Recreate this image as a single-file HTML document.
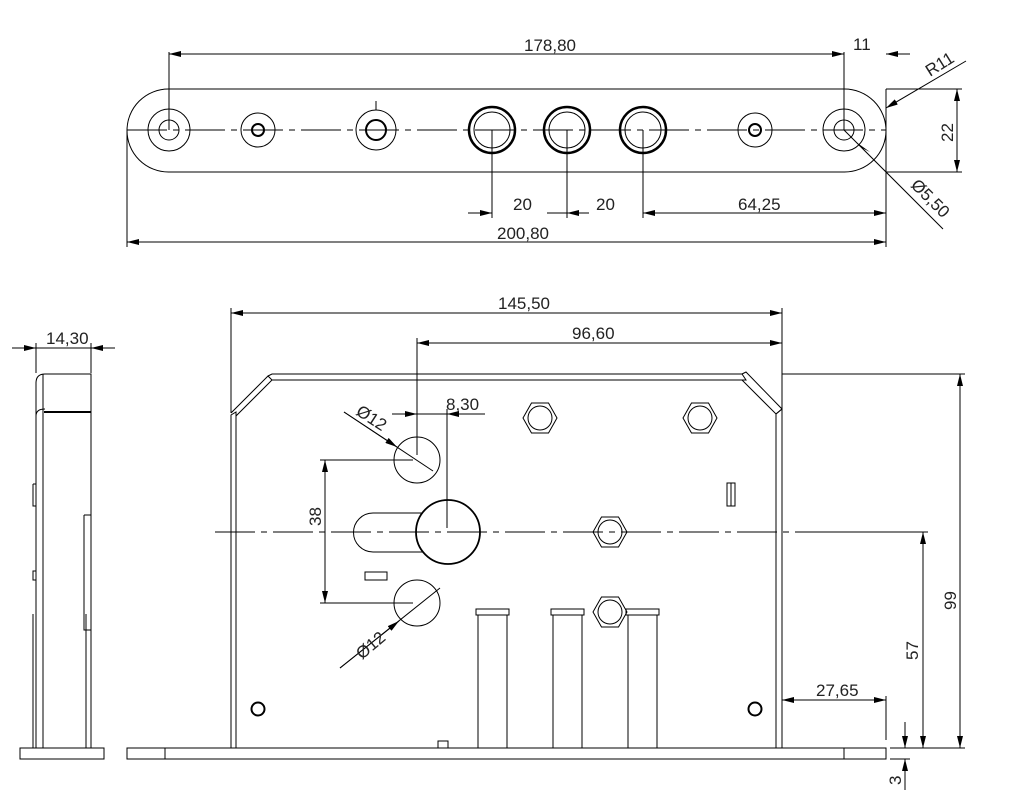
<!DOCTYPE html>
<html><head><meta charset="utf-8"><style>
html,body{margin:0;padding:0;background:#fff}
svg{display:block}
text{font-family:"Liberation Sans",sans-serif;font-size:17px;fill:#222}
</style></head><body>
<svg width="1024" height="793" viewBox="0 0 1024 793" xmlns="http://www.w3.org/2000/svg">
<defs>
<marker id="a" viewBox="0 0 12 6" refX="12" refY="3" markerWidth="12" markerHeight="6" orient="auto-start-reverse" markerUnits="userSpaceOnUse"><path d="M0,0L12,3L0,6z" fill="#000"/></marker>
<g id="hx" stroke="#000" fill="none"><polygon points="-17,0 -8.5,-15 8.5,-15 17,0 8.5,15 -8.5,15"/><circle r="12"/></g>
</defs>
<g stroke="#000" stroke-width="1" fill="none">
<!-- top plate -->
<rect x="127" y="89" width="759" height="83" rx="41.5"/>
<line x1="127" y1="130" x2="886" y2="130" stroke-dasharray="40,6,6,6"/>
<circle cx="169" cy="130" r="21"/><circle cx="169" cy="130" r="10"/>
<circle cx="258" cy="130" r="17"/><circle cx="258" cy="130" r="6" stroke-width="2"/>
<circle cx="376" cy="130" r="20"/><circle cx="376" cy="130" r="10" stroke-width="2"/>
<line x1="376" y1="101" x2="376" y2="110"/>
<circle cx="492" cy="130" r="23" stroke-width="2.5"/><circle cx="492" cy="130" r="18"/>
<circle cx="567" cy="130" r="23" stroke-width="2.5"/><circle cx="567" cy="130" r="18"/>
<circle cx="643" cy="130" r="23" stroke-width="2.5"/><circle cx="643" cy="130" r="18"/>
<circle cx="755" cy="130" r="17"/><circle cx="755" cy="130" r="6" stroke-width="2"/>
<circle cx="844" cy="130" r="21"/><circle cx="844" cy="130" r="10"/>
<!-- top dims -->
<line x1="169" y1="130" x2="169" y2="52"/>
<line x1="844" y1="130" x2="844" y2="52"/>
<line x1="886" y1="89" x2="886" y2="247"/>
<line x1="127" y1="130" x2="127" y2="247"/>
<line x1="169" y1="54" x2="844" y2="54" marker-start="url(#a)" marker-end="url(#a)"/>
<line x1="910" y1="54" x2="886" y2="54" marker-end="url(#a)"/>
<line x1="886" y1="89" x2="962" y2="89"/><line x1="886" y1="172" x2="962" y2="172"/>
<line x1="957" y1="89" x2="957" y2="172" marker-start="url(#a)" marker-end="url(#a)"/>
<line x1="966" y1="61" x2="886" y2="108" marker-end="url(#a)"/>
<line x1="844" y1="130" x2="943" y2="229"/>
<line x1="492" y1="130" x2="492" y2="218"/>
<line x1="567" y1="130" x2="567" y2="218"/>
<line x1="643" y1="130" x2="643" y2="218"/>
<line x1="468" y1="213" x2="492" y2="213" marker-end="url(#a)"/>
<line x1="589" y1="213" x2="567" y2="213" marker-end="url(#a)"/>
<line x1="567" y1="213" x2="547" y2="213"/>
<line x1="643" y1="213" x2="886" y2="213" marker-start="url(#a)" marker-end="url(#a)"/>
<line x1="127" y1="242" x2="886" y2="242" marker-start="url(#a)" marker-end="url(#a)"/>
</g>
<polygon points="870,152 856,142 862,148" fill="#000"/>
<text x="524" y="51">178,80</text>
<text x="853" y="50">11</text>
<text x="513" y="210">20</text>
<text x="596" y="210">20</text>
<text x="738" y="210">64,25</text>
<text x="497" y="239">200,80</text>
<text transform="translate(953,142) rotate(-90)">22</text>
<text transform="translate(930,77) rotate(-32)">R11</text>
<text transform="translate(910,186) rotate(45)">Ø5,50</text>

<!-- lower main view -->
<g stroke="#000" stroke-width="1" fill="none">
<path d="M231,748 V415 L236,412 L236,748"/>
<path d="M231,413 L268,376 L272,380 L236,416"/>
<path d="M268,376 L272,374 H742 L746,380 H272"/>
<path d="M742,374 L746,372 L782,409 L776,414 L742,380"/>
<path d="M776,748 V414 L782,409 V748"/>
<rect x="127" y="748" width="759" height="11"/>
<line x1="165" y1="748" x2="165" y2="759"/>
<line x1="844" y1="748" x2="844" y2="759"/>
<rect x="438" y="741" width="10" height="7"/>
<line x1="215" y1="532" x2="810" y2="532" stroke-dasharray="40,6,6,6"/>
<circle cx="417" cy="460" r="23"/>
<circle cx="417" cy="603" r="23"/>
<circle cx="448" cy="532" r="32" stroke-width="1.8"/>
<path d="M423,513 H373 A19.5,19.5 0 0 0 373,552 H423"/>
<rect x="365" y="572" width="22" height="8"/>
<rect x="727" y="483" width="8" height="23"/>
<line x1="731" y1="483" x2="731" y2="506"/>
<circle cx="258" cy="709" r="6.5" stroke-width="2"/>
<circle cx="755" cy="709" r="6.5" stroke-width="2"/>
<path d="M478,748 V615 H507 V748 M476,609 H509 V615 H476 Z"/>
<path d="M553,748 V615 H582 V748 M551,609 H584 V615 H551 Z"/>
<path d="M628,748 V615 H657 V748 M626,609 H659 V615 H626 Z"/>
<line x1="231" y1="413" x2="231" y2="308"/>
<line x1="782" y1="409" x2="782" y2="308"/>
<line x1="231" y1="313" x2="782" y2="313" marker-start="url(#a)" marker-end="url(#a)"/>
<line x1="417" y1="455" x2="417" y2="338"/>
<line x1="417" y1="343" x2="782" y2="343" marker-start="url(#a)" marker-end="url(#a)"/>
<line x1="447" y1="528" x2="447" y2="409"/>
<line x1="392" y1="414" x2="417" y2="414" marker-end="url(#a)"/>
<line x1="485" y1="414" x2="447" y2="414" marker-end="url(#a)"/>
<line x1="417" y1="414" x2="447" y2="414"/>
<line x1="344" y1="412" x2="433" y2="471"/>
<line x1="344" y1="412" x2="397" y2="447" marker-end="url(#a)"/>
<line x1="320" y1="460" x2="413" y2="460"/>
<line x1="320" y1="603" x2="413" y2="603"/>
<line x1="325" y1="460" x2="325" y2="603" marker-start="url(#a)" marker-end="url(#a)"/>
<line x1="440" y1="588" x2="340" y2="668"/>
<line x1="340" y1="668" x2="399" y2="621" marker-end="url(#a)"/>
<line x1="886" y1="696" x2="886" y2="740"/>
<line x1="782" y1="700" x2="886" y2="700" marker-start="url(#a)" marker-end="url(#a)"/>
<line x1="810" y1="532" x2="928" y2="532"/>
<line x1="782" y1="374" x2="965" y2="374"/>
<line x1="890" y1="748" x2="965" y2="748"/>
<line x1="923" y1="532" x2="923" y2="748" marker-start="url(#a)" marker-end="url(#a)"/>
<line x1="960" y1="374" x2="960" y2="748" marker-start="url(#a)" marker-end="url(#a)"/>
<line x1="890" y1="759" x2="910" y2="759"/>
<line x1="905" y1="722" x2="905" y2="748" marker-end="url(#a)"/>
<line x1="905" y1="790" x2="905" y2="759" marker-end="url(#a)"/>
<path d="M36,748 V383 Q36,374 45,374 H91 V748"/>
<path d="M43,748 V374"/>
<line x1="44" y1="412" x2="91" y2="412" stroke-width="2"/>
<path d="M36,416 Q36,409 45,409"/>
<path d="M33,484 H36 M33,484 V506 H36"/>
<path d="M33,571 H36 V580 H33 Z"/>
<path d="M33,614 V748 M86,614 V748 M84,515 H91 M84,515 V630 H91"/>
<rect x="20" y="748" width="84" height="11"/>
<line x1="36" y1="373" x2="36" y2="343"/>
<line x1="91" y1="373" x2="91" y2="343"/>
<line x1="12" y1="348" x2="36" y2="348" marker-end="url(#a)"/>
<line x1="115" y1="348" x2="91" y2="348" marker-end="url(#a)"/>
<line x1="36" y1="348" x2="91" y2="348"/>
</g>
<use href="#hx" x="540" y="418"/>
<use href="#hx" x="700" y="418"/>
<use href="#hx" x="610" y="532"/>
<use href="#hx" x="610" y="612"/>
<text x="498" y="309">145,50</text>
<text x="572" y="339">96,60</text>
<text x="446" y="410">8,30</text>
<text x="816" y="696">27,65</text>
<text x="46" y="344">14,30</text>
<text transform="translate(321,526) rotate(-90)">38</text>
<text transform="translate(918,660) rotate(-90)">57</text>
<text transform="translate(956,610) rotate(-90)">99</text>
<text transform="translate(901,785) rotate(-90)">3</text>
<text transform="translate(355,414) rotate(33)">Ø12</text>
<text transform="translate(362,660) rotate(-40)">Ø12</text>
</svg>
</body></html>
